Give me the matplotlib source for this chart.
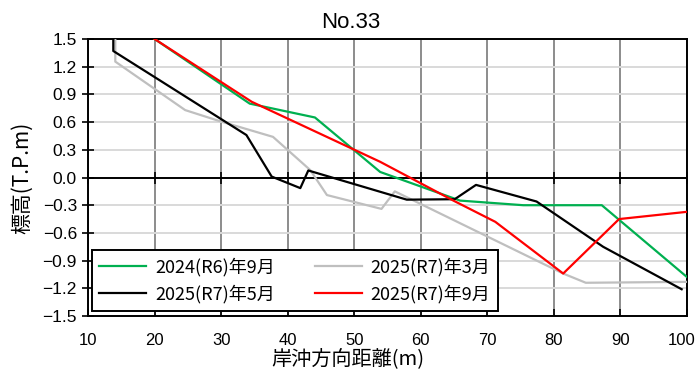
import numpy as np
import matplotlib.pyplot as plt
from matplotlib.transforms import ScaledTranslation

plt.rcParams['font.family'] = ['Liberation Sans', 'Noto Sans CJK JP', 'DejaVu Sans']

# survey profiles (distance m, elevation T.P.m)
x_r6_09 = [14.0, 20.0, 34.3, 44.1, 53.9, 65.9, 75.4, 87.2, 100.2]
y_r6_09 = [1.83, 1.50, 0.80, 0.65, 0.06, -0.25, -0.30, -0.30, -1.09]

x_r7_03 = [14.1, 14.1, 24.6, 29.8, 37.8, 43.4, 45.9, 54.1, 56.1, 81.4, 84.8, 100.2]
y_r7_03 = [1.70, 1.255, 0.73, 0.61, 0.44, 0.08, -0.19, -0.34, -0.15, -1.04, -1.14, -1.13]

x_r7_05 = [13.8, 13.8, 33.8, 37.6, 41.9, 43.1, 57.9, 65.1, 68.3, 77.4, 87.4, 99.2]
y_r7_05 = [1.80, 1.37, 0.46, 0.01, -0.115, 0.076, -0.24, -0.235, -0.08, -0.26, -0.75, -1.21]

x_r7_09 = [14.0, 20.0, 34.6, 53.9, 64.9, 71.2, 81.4, 89.8, 100.2]
y_r7_09 = [1.78, 1.50, 0.82, 0.17, -0.25, -0.48, -1.04, -0.45, -0.37]

labels = ['2024(R6)年9月', '2025(R7)年3月', '2025(R7)年5月', '2025(R7)年9月']
colors = ['#00b050', '#bfbfbf', '#000000', '#ff0000']

xticks = np.arange(10, 101, 10)
yticks = np.arange(-1.5, 1.51, 0.3)

cjk = ['Noto Sans CJK JP', 'DejaVu Sans']

fig = plt.figure(figsize=(6.99, 3.71), dpi=100)
ax = fig.add_axes([0.1259, 0.1482, 0.8569, 0.7467])

# grid
for xv in xticks:
    ax.axvline(xv, color='#8c8c8c', lw=1.4, zorder=1)
for yv in yticks:
    ax.axhline(yv, color='#d9d9d9', lw=1.4, zorder=1)
ax.axhline(0, color='black', lw=1.4, zorder=2)
# tick marks where the x grid meets the zero line
ax.plot(xticks, np.zeros_like(xticks), linestyle='none', marker='|',
        markersize=8, markeredgewidth=1.2, color='black', zorder=2, clip_on=False)

lines = {}
for xs, ys, lab, col in zip([x_r6_09, x_r7_03, x_r7_05, x_r7_09],
                            [y_r6_09, y_r7_03, y_r7_05, y_r7_09],
                            labels, colors):
    lines[lab], = ax.plot(xs, ys, color=col, lw=1.6, label=lab, zorder=3)

ax.set_xlim(10, 100)
ax.set_ylim(-1.5, 1.5)
ax.set_xticks(xticks)
ax.set_yticks(yticks)
ax.set_yticklabels([f'{v:.1f}'.replace('-', '\u2212') for v in yticks])
ax.tick_params(axis='x', direction='in', length=5, width=1.2, labelsize=12, pad=12)
ax.tick_params(axis='y', direction='inout', length=8, width=1.2, labelsize=12.5, pad=4)
for sp in ax.spines.values():
    sp.set_linewidth(1.4)

# pull the last x label in a little so it stays inside the figure
last = ax.get_xticklabels()[-1]
last.set_transform(last.get_transform() + ScaledTranslation(-5 / 100, 0, fig.dpi_scale_trans))

ax.set_title('No.33', fontsize=16, pad=8, x=0.439)
ax.set_xlabel('岸沖方向距離(m)', fontsize=14.5, family=cjk)
ax.xaxis.set_label_coords(0.434, -0.157, transform=ax.transAxes)
ax.xaxis.label.set_va('center')
ax.set_ylabel('標高(T.P.m)', fontsize=15, labelpad=7, family=cjk)

order = [labels[0], labels[2], labels[1], labels[3]]
leg = ax.legend([lines[k] for k in order], order, ncol=2, loc='lower left',
                bbox_to_anchor=(0.0067, 0.018), borderaxespad=0,
                fancybox=False, framealpha=1,
                edgecolor='black', handlelength=2.6, handletextpad=0.5,
                columnspacing=2.2, borderpad=0.4, labelspacing=0.5,
                prop={'family': cjk, 'size': 13})
leg.get_frame().set_linewidth(1.4)
leg.set_zorder(5)

fig.savefig('out.png', dpi=100)
